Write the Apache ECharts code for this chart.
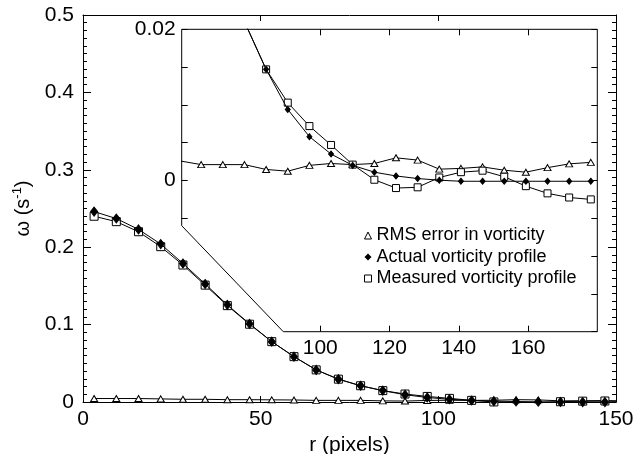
<!DOCTYPE html>
<html>
<head>
<meta charset="utf-8">
<script src="https://cdn.jsdelivr.net/npm/echarts@6/dist/echarts.min.js"></script>
<style>
html,body{margin:0;padding:0;background:#fff;}
#chart{width:636px;height:454px;}
</style>
</head>
<body>
<div id="chart"></div>
<script>
// ---- data ----
const r = [3.125, 9.375, 15.625, 21.875, 28.125, 34.375, 40.625, 46.875, 53.125, 59.375,
  65.625, 71.875, 78.125, 84.375, 90.625, 96.875, 103.125, 109.375, 115.625, 121.875,
  128.125, 134.375, 140.625, 146.875, 153.125, 159.375, 165.625, 171.875, 178.125];
const actual = [0.246, 0.237, 0.223, 0.204, 0.179, 0.1525, 0.1255, 0.101, 0.078, 0.0586,
  0.0415, 0.0295, 0.021, 0.0147, 0.0094, 0.0058, 0.0035, 0.002, 0.0011, 0.0006,
  0.00026, 0.00004, -0.0001, -0.0001, -0.0001, -0.0001, -0.0001, -0.0001, -0.0001];
const measured = [0.240, 0.233, 0.220, 0.2007, 0.177, 0.151, 0.1245, 0.1005, 0.078, 0.0586,
  0.0415, 0.0295, 0.021, 0.0147, 0.0103, 0.0072, 0.0047, 0.0021, 0.0001, -0.001,
  -0.0009, 0.0004, 0.0011, 0.0013, 0.0005, -0.00075, -0.0017, -0.00225, -0.0025];
const rmsError = [0.0045, 0.0045, 0.0045, 0.004, 0.0035, 0.0035, 0.003, 0.003, 0.0028, 0.0026,
  0.0021, 0.0021, 0.0021, 0.00146, 0.00123, 0.002, 0.00225, 0.0021, 0.00225, 0.003,
  0.0027, 0.0015, 0.0016, 0.0018, 0.00136, 0.0011, 0.0017, 0.0022, 0.0024];
const seriesNames = ['RMS error in vorticity', 'Actual vorticity profile', 'Measured vorticity profile'];
const insetXTicks = [100, 120, 140, 160];
const insetYTicks = [-0.005, 0, 0.005, 0.01, 0.015, 0.02];
const insetYLabels = [0, 0.02];

// ---- chart ----
const FONT = "'Liberation Sans', Arial, Helvetica, sans-serif";
const pairs = arr => r.map((x, i) => [x, arr[i]]);
const black = '#000';

const mainGrid = {left: 83, top: 15, width: 533, height: 387};
const insetGrid = {left: 181.7, top: 29.3, width: 415.6, height: 302.4};
const insetShape = [[181.7, 29.3], [597.3, 29.3], [597.3, 331.7], [283.3, 331.7], [181.7, 225.7]];

function mkSeries(name, data, xi, yi, symbol, size, fill, z) {
  return {
    name: name, type: 'line', data: data, xAxisIndex: xi, yAxisIndex: yi,
    symbol: symbol, symbolSize: size, showAllSymbol: true, clip: true, z: z,
    lineStyle: {color: black, width: 1},
    itemStyle: {color: fill, borderColor: black, borderWidth: 1},
    emphasis: {disabled: true}
  };
}

const axisLineStyle = {show: true, onZero: false, lineStyle: {color: black, width: 1}};
const noLine = {show: false, onZero: false};
const labelStyle = {color: black, fontSize: 21, fontFamily: FONT};

const option = {
  animation: false,
  backgroundColor: '#fff',
  textStyle: {fontFamily: FONT, color: black},
  grid: [
    Object.assign({containLabel: false, outerBoundsMode: 'none'}, mainGrid),
    Object.assign({containLabel: false, outerBoundsMode: 'none'}, insetGrid)
  ],
  xAxis: [
    {type: 'value', gridIndex: 0, min: 0, max: 150, interval: 50, position: 'bottom', z: 1,
      axisLine: axisLineStyle, axisTick: {inside: true, length: 6, lineStyle: {color: black}},
      splitLine: {show: false}, axisLabel: Object.assign({margin: 7}, labelStyle),
      name: 'r (pixels)', nameLocation: 'middle', nameGap: 30,
      nameTextStyle: {color: black, fontSize: 21, fontFamily: FONT}},
    {type: 'value', gridIndex: 0, min: 0, max: 150, interval: 50, position: 'top', z: 1,
      axisLine: axisLineStyle, axisTick: {inside: true, length: 6, lineStyle: {color: black}},
      splitLine: {show: false}, axisLabel: {show: false}},
    {type: 'value', gridIndex: 1, min: 60, max: 180, interval: 20, position: 'bottom', z: 6,
      axisLine: noLine,
      axisTick: {inside: true, length: 6, customValues: insetXTicks, lineStyle: {color: black}},
      splitLine: {show: false},
      axisLabel: Object.assign({margin: 6, customValues: insetXTicks}, labelStyle)},
    {type: 'value', gridIndex: 1, min: 60, max: 180, interval: 20, position: 'top', z: 6,
      axisLine: noLine,
      axisTick: {inside: true, length: 6, customValues: insetXTicks, lineStyle: {color: black}},
      splitLine: {show: false}, axisLabel: {show: false}}
  ],
  yAxis: [
    {type: 'value', gridIndex: 0, min: 0, max: 0.5, interval: 0.1, position: 'left', z: 1,
      axisLine: axisLineStyle, axisTick: {inside: true, length: 8, lineStyle: {color: black}},
      minorTick: {show: true, splitNumber: 10, length: 4, lineStyle: {color: black}},
      splitLine: {show: false}, minorSplitLine: {show: false},
      axisLabel: Object.assign({margin: 9}, labelStyle),
      name: '{a|ω (s}{b|-1}{a|)}', nameLocation: 'middle', nameGap: 44, nameRotate: 90,
      nameTextStyle: {color: black, fontFamily: FONT,
        rich: {a: {fontSize: 20, lineHeight: 26, fontFamily: FONT, color: black},
               b: {fontSize: 13, lineHeight: 26, verticalAlign: 'top', fontFamily: FONT, color: black}}}},
    {type: 'value', gridIndex: 0, min: 0, max: 0.5, interval: 0.1, position: 'right', z: 1,
      axisLine: axisLineStyle, axisTick: {inside: true, length: 8, lineStyle: {color: black}},
      minorTick: {show: true, splitNumber: 10, length: 4, lineStyle: {color: black}},
      splitLine: {show: false}, minorSplitLine: {show: false}, axisLabel: {show: false}},
    {type: 'value', gridIndex: 1, min: -0.02, max: 0.02, interval: 0.005, position: 'left', z: 6,
      axisLine: noLine,
      axisTick: {inside: true, length: 6, customValues: insetYTicks, lineStyle: {color: black}},
      splitLine: {show: false},
      axisLabel: Object.assign({margin: 6, customValues: insetYLabels}, labelStyle)},
    {type: 'value', gridIndex: 1, min: -0.02, max: 0.02, interval: 0.005, position: 'right', z: 6,
      axisLine: noLine,
      axisTick: {inside: true, length: 6, lineStyle: {color: black}},
      splitLine: {show: false}, axisLabel: {show: false}}
  ],
  graphic: {
    elements: [{
      type: 'polygon', z: 4, silent: true,
      shape: {points: insetShape},
      style: {fill: '#fff', stroke: black, lineWidth: 1}
    }]
  },
  legend: {
    orient: 'vertical', left: 359, top: 221.5, itemWidth: 7, itemHeight: 7, itemGap: 3.5,
    z: 10, selectedMode: false,
    textStyle: {fontSize: 18, lineHeight: 18, color: black, fontFamily: FONT},
    data: [
      {name: seriesNames[0], icon: 'triangle', itemStyle: {color: '#fff', borderColor: black, borderWidth: 1}},
      {name: seriesNames[1], icon: 'diamond', itemStyle: {color: black, borderColor: black, borderWidth: 0}},
      {name: seriesNames[2], icon: 'rect', itemStyle: {color: '#fff', borderColor: black, borderWidth: 1}}
    ]
  },
  series: [
    mkSeries(seriesNames[0], pairs(rmsError), 0, 0, 'triangle', [7, 6], '#fff', 2),
    mkSeries(seriesNames[2], pairs(measured), 0, 0, 'rect', 8, '#fff', 2),
    mkSeries(seriesNames[1], pairs(actual), 0, 0, 'diamond', [7, 9], black, 3),
    mkSeries(seriesNames[0], pairs(rmsError), 2, 2, 'triangle', [7, 6], '#fff', 7),
    mkSeries(seriesNames[2], pairs(measured), 2, 2, 'rect', 7, '#fff', 7),
    mkSeries(seriesNames[1], pairs(actual), 2, 2, 'diamond', [5, 6], black, 8)
  ]
};

const chart = echarts.init(document.getElementById('chart'), null, {renderer: 'canvas'});
chart.setOption(option);
</script>
</body>
</html>
